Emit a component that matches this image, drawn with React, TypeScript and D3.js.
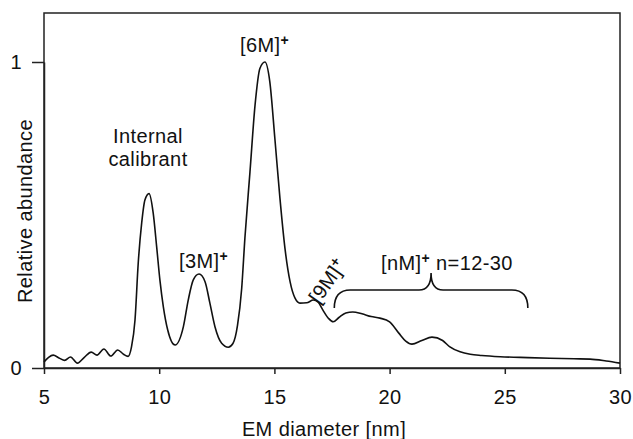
import React, { useEffect, useRef } from 'react';
import * as d3 from 'd3';

// EM diameter [nm] vs relative abundance
const diameters = [
  5.0, 5.2, 5.4, 5.65, 5.9, 6.15, 6.45, 6.75, 7.05, 7.3, 7.6, 7.9, 8.2, 8.45, 8.65, 8.8,
  8.95, 9.09, 9.24, 9.38, 9.56, 9.74, 9.89, 10.03, 10.18, 10.37, 10.69, 11.05, 11.26,
  11.48, 11.73, 11.99, 12.2, 12.42, 12.71, 13.0, 13.2, 13.4, 13.58, 13.72, 13.94, 14.16,
  14.37, 14.59, 14.8, 15.02, 15.24, 15.46, 15.68, 15.89, 16.11, 16.4, 16.69, 16.9, 17.1,
  17.35, 17.55, 17.8, 18.1, 18.4, 18.8, 19.2, 19.58, 20.0, 20.4, 20.7, 20.97, 21.4, 21.84,
  22.3, 22.6, 23.06, 23.5, 24.0, 24.8, 26.0, 26.96, 28.0, 28.7, 29.4, 30.0,
];
const abundance = [
  0.02, 0.035, 0.042, 0.033, 0.025, 0.036, 0.016, 0.035, 0.052, 0.042, 0.062, 0.039, 0.059, 0.045, 0.038, 0.07,
  0.157, 0.343, 0.474, 0.549, 0.57, 0.506, 0.396, 0.288, 0.2, 0.124, 0.075, 0.135, 0.222,
  0.288, 0.307, 0.282, 0.212, 0.135, 0.081, 0.068, 0.08, 0.14, 0.26, 0.425, 0.641, 0.859,
  0.979, 1.0, 0.936, 0.75, 0.555, 0.39, 0.282, 0.229, 0.212, 0.213, 0.222, 0.215, 0.19,
  0.162, 0.151, 0.165, 0.18, 0.183, 0.177, 0.168, 0.163, 0.151, 0.114, 0.088, 0.078, 0.09, 0.101,
  0.09, 0.07, 0.053, 0.045, 0.041, 0.037, 0.034, 0.032, 0.03, 0.029, 0.023, 0.016,
];
const xTicks = [5, 10, 15, 20, 25, 30];
const yTicks = [0, 1];

const FONT = '"Liberation Sans", Arial, sans-serif';

function App() {
  const ref = useRef<SVGSVGElement>(null);

  useEffect(() => {
    const svg = d3.select(ref.current);
    svg.selectAll('*').remove();

    const left = 44, right = 620, top = 13, bottom = 368;
    const x = d3.scaleLinear().domain([5, 30]).range([left, right]);
    const y = d3.scaleLinear().domain([0, 1]).range([bottom, 62]);

    // frame
    svg.append('rect')
      .attr('x', left).attr('y', top)
      .attr('width', right - left).attr('height', bottom - top)
      .attr('fill', 'none').attr('stroke', '#222').attr('stroke-width', 1.5);

    const xAxis = svg.append('g')
      .attr('transform', `translate(0,${bottom})`)
      .call(d3.axisBottom(x).tickValues(xTicks).tickSize(6).tickSizeOuter(0).tickPadding(16));
    const yAxis = svg.append('g')
      .attr('transform', `translate(${left},0)`)
      .call(d3.axisLeft(y).tickValues(yTicks).tickFormat(d3.format('d'))
        .tickSize(12).tickSizeOuter(0).tickPadding(10));

    [xAxis, yAxis].forEach(g => {
      g.select('.domain').attr('stroke', '#222').attr('stroke-width', 1.5);
      g.selectAll('.tick line').attr('stroke', '#222').attr('stroke-width', 1.5);
      g.selectAll('.tick text')
        .attr('font-family', FONT).attr('font-size', 20).attr('fill', '#111')
        .attr('letter-spacing', 0.4);
    });

    const pts = diameters.map((d, i) => [d, abundance[i]] as [number, number]);
    const line = d3.line<[number, number]>()
      .x(d => x(d[0])).y(d => y(d[1]))
      .curve(d3.curveMonotoneX);
    svg.append('path')
      .attr('d', line(pts))
      .attr('fill', 'none').attr('stroke', '#111').attr('stroke-width', 1.6);

    const text = (tx: number, ty: number, s: string, anchor = 'middle') =>
      svg.append('text')
        .attr('x', tx).attr('y', ty)
        .attr('text-anchor', anchor)
        .attr('font-family', FONT).attr('font-size', 20).attr('letter-spacing', 0.4)
        .attr('fill', '#111').text(s);

    text(324, 436, 'EM diameter [nm]');
    text(0, 0, 'Relative abundance')
      .attr('transform', 'translate(32,211) rotate(-90)');

    text(148, 143, 'Internal');
    text(148, 166, 'calibrant');

    const ion = (tx: number, ty: number, s: string, extra = '', anchor = 'start') => {
      const t = text(tx, ty, s, anchor);
      t.append('tspan').attr('font-size', 14).attr('font-weight', 'bold').attr('dy', -7).text('+');
      if (extra) t.append('tspan').attr('dy', 7).text(' ' + extra);
      return t;
    };
    ion(240, 52, '[6M]');
    ion(179, 268, '[3M]');
    ion(381, 270, '[nM]', 'n=12-30');
    ion(0, 0, '[9M]').attr('transform', 'translate(319,305) rotate(-55)');

    // brace over the nM region
    const bx0 = x(17.6), bx1 = x(26.0), bm = x(21.8);
    const by = 290, btip = 308, bcusp = 273;
    const brace = d3.path();
    brace.moveTo(bx0, btip);
    brace.quadraticCurveTo(bx0, by, bx0 + 16, by);
    brace.lineTo(bm - 12, by);
    brace.quadraticCurveTo(bm, by, bm, bcusp);
    brace.quadraticCurveTo(bm, by, bm + 12, by);
    brace.lineTo(bx1 - 16, by);
    brace.quadraticCurveTo(bx1, by, bx1, btip);
    svg.append('path')
      .attr('d', brace.toString())
      .attr('fill', 'none').attr('stroke', '#111').attr('stroke-width', 1.6);
  }, []);

  return (
    <svg ref={ref} width={633} height={439}
      style={{ position: 'absolute', left: 0, top: 0, background: '#fff' }} />
  );
}

export default App;
